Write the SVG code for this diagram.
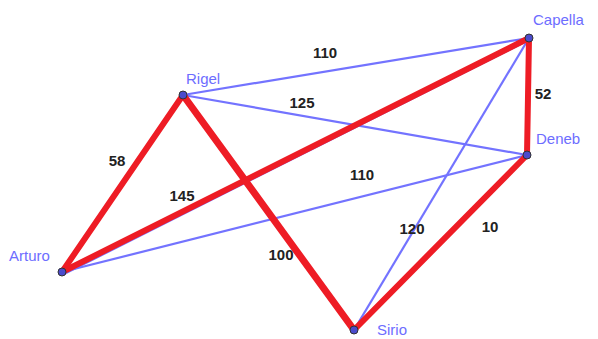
<svg xmlns="http://www.w3.org/2000/svg" width="598" height="339" viewBox="0 0 598 339">
<style>
.b{stroke:#7373ff;stroke-width:2.2;fill:none}
.r{stroke:#ee1c25;stroke-width:6;fill:none;stroke-linecap:round}
.w{font-family:"Liberation Sans",Arial,sans-serif;font-size:15px;font-weight:bold;fill:#222}
.n{font-family:"Liberation Sans",Arial,sans-serif;font-size:15px;fill:#6d6dff}
.d{fill:#4b4bcc;stroke:#333;stroke-width:1}
</style>
<rect width="598" height="339" fill="#fff"/>
<g id="connectors">
<line class="b" x1="183" y1="95" x2="529" y2="38"/>
<line class="b" x1="183" y1="95" x2="527" y2="155"/>
<line class="b" x1="62" y1="272" x2="527" y2="155"/>
<line class="b" x1="354" y1="330" x2="529" y2="38"/>
<line class="b" x1="185" y1="98" x2="356" y2="330"/>
<line class="b" x1="64" y1="274" x2="529" y2="40"/>
<line class="r" x1="62" y1="272" x2="183" y2="95"/>
<line class="r" x1="62" y1="272" x2="529" y2="38"/>
<line class="r" x1="529" y1="38" x2="527" y2="155"/>
<line class="r" x1="527" y1="155" x2="354" y2="330"/>
<line class="r" style="stroke-width:7" x1="183" y1="95" x2="354" y2="330"/>
</g>
<g id="labels">
<text class="w" x="325" y="58" text-anchor="middle">110</text>
<text class="w" x="302" y="108" text-anchor="middle">125</text>
<text class="w" x="543" y="99" text-anchor="middle">52</text>
<text class="w" x="117" y="166" text-anchor="middle">58</text>
<text class="w" x="182" y="201" text-anchor="middle">145</text>
<text class="w" x="362" y="180" text-anchor="middle">110</text>
<text class="w" x="412" y="234" text-anchor="middle">120</text>
<text class="w" x="490" y="232" text-anchor="middle">10</text>
<text class="w" x="281" y="260" text-anchor="middle">100</text>
</g>
<g id="Rigel"><circle class="d" cx="183" cy="95" r="4"/><text class="n" x="186" y="84">Rigel</text></g>
<g id="Capella"><circle class="d" cx="529" cy="38" r="4"/><text class="n" x="533" y="25">Capella</text></g>
<g id="Deneb"><circle class="d" cx="527" cy="155" r="4"/><text class="n" x="536" y="144">Deneb</text></g>
<g id="Arturo"><circle class="d" cx="62" cy="272" r="4"/><text class="n" x="9" y="261">Arturo</text></g>
<g id="Sirio"><circle class="d" cx="354" cy="330" r="4"/><text class="n" x="377" y="335">Sirio</text></g>
</svg>
